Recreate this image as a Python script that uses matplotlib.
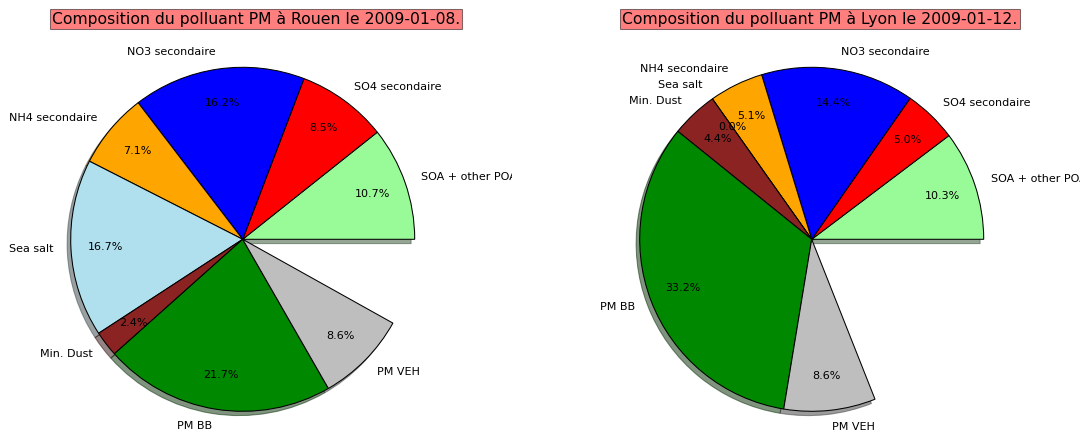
import matplotlib
matplotlib.use("Agg")
from matplotlib import pyplot as plt

labels = ["SOA + other POA", "SO4 secondaire", "NO3 secondaire", "NH4 secondaire",
          "Sea salt", "Min. Dust", "PM BB", "PM VEH"]
colors = ["#98FB98", "#FF0000", "#0000FF", "#FFA500",
          "#B0DFEE", "#8B2323", "#008800", "#BEBEBE"]

# percentages (they do not add up to 100)
rouen = [10.7, 8.5, 16.2, 7.1, 16.7, 2.4, 21.7, 8.6]
lyon = [10.3, 5.0, 14.4, 5.1, 0.0, 4.4, 33.2, 8.6]

titles = ["Composition du polluant PM à Rouen le 2009-01-08.",
          "Composition du polluant PM à Lyon le 2009-01-12."]

W, H, DPI = 1090, 432, 75
fig = plt.figure(figsize=(W / DPI, H / DPI), dpi=DPI)

# pixel layout: (axes left, axes right, pie centre x, title centre x)
layout = [(0, 512, 242.7, 256), (545, 1080, 811.7, 820)]
cy = 239.3  # pie centre, pixels from top
r = 172     # pie radius in pixels

for values, title, (x0, x1, cx, tx) in zip([rouen, lyon], titles, layout):
    ax = fig.add_axes([x0 / W, 0, (x1 - x0) / W, 1])
    wedges, texts, autotexts = ax.pie(
        [v / 100 for v in values], labels=labels, colors=colors,
        autopct='%1.1f%%', pctdistance=0.8, labeldistance=1.1,
        normalize=False, startangle=0,
        shadow={'ox': -0.02, 'oy': -0.024},
        wedgeprops={'edgecolor': 'black', 'linewidth': 1},
        textprops={'fontsize': 10.7})
    # labels running past the right edge get cut, as in the original
    for t in texts:
        t.set_clip_box(ax.bbox)
        t.set_clip_on(True)
    ax.set_aspect('auto')
    ax.set_xlim(-(cx - x0) / r, (x1 - cx) / r)
    ax.set_ylim(-(H - cy) / r, cy / r)
    fig.text(tx / W, 1 - 19 / H, title, fontsize=15, ha='center', va='center',
             bbox=dict(boxstyle='square,pad=0.15', facecolor='red', alpha=0.5))

fig.savefig('out.png', dpi=DPI)
